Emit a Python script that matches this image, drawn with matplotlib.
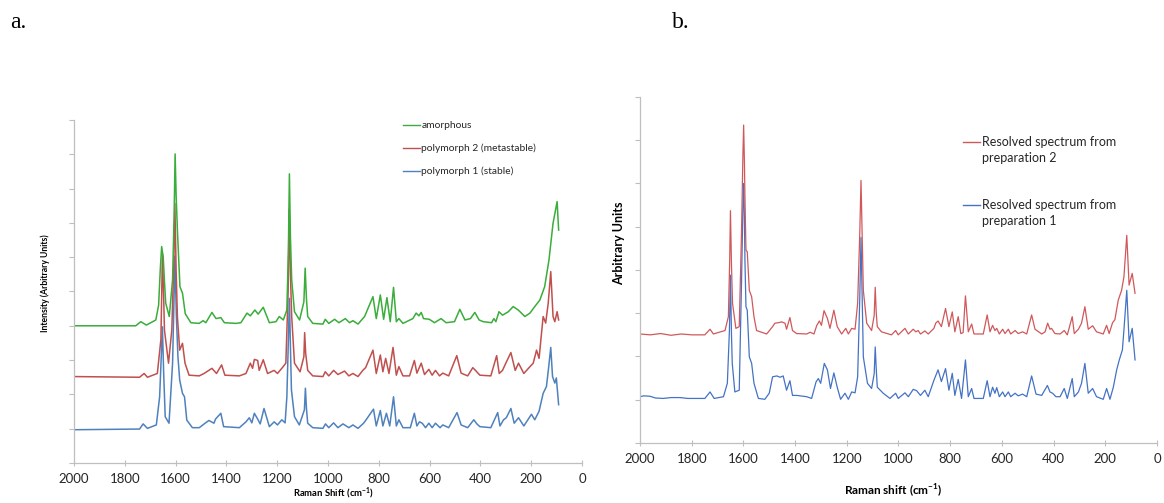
#!/usr/bin/env python3
"""Raman spectra of the two polymorphs / amorphous form and the resolved spectra."""
import matplotlib
matplotlib.use("Agg")
import matplotlib.pyplot as plt
from matplotlib.lines import Line2D

plt.rcParams["font.family"] = ["Lato", "DejaVu Sans"]
plt.rcParams["mathtext.fontset"] = "custom"
plt.rcParams["mathtext.rm"] = "Lato"
plt.rcParams["mathtext.bf"] = "Lato:bold"

# ---- panel a: Raman shift (cm-1) / intensity (offset, arbitrary units) ----
amorph_x = [2000, 1757, 1737, 1715, 1678, 1667, 1660, 1655, 1649, 1644, 1639, 1625, 1612, 1606,
            1602, 1598, 1593, 1583, 1573, 1562, 1540, 1507, 1492, 1481, 1457, 1441, 1422, 1408,
            1362, 1343, 1319, 1306, 1288, 1275, 1255, 1231, 1205, 1192, 1176, 1162, 1156, 1152,
            1148, 1143, 1132, 1112, 1095, 1090, 1085, 1080, 1060, 1020, 1011, 997, 974, 957,
            932, 915, 902, 882, 856, 823, 810, 794, 781, 768, 755, 742, 731, 721, 705, 666, 653,
            642, 633, 624, 601, 581, 555, 535, 502, 481, 461, 439, 422, 405, 389, 356, 347, 339,
            327, 313, 290, 271, 251, 225, 205, 186, 166, 147, 130, 114, 98, 92]
amorph_y = [4.00, 4.00, 4.12, 4.02, 4.17, 4.60, 5.70, 6.31, 6.01, 5.30, 4.66, 4.27, 5.34, 7.20,
            9.01, 7.80, 6.79, 5.14, 4.95, 4.35, 4.09, 4.07, 4.15, 4.09, 4.39, 4.21, 4.24, 4.09,
            4.07, 4.09, 4.37, 4.29, 4.46, 4.34, 4.54, 4.09, 4.12, 4.27, 4.17, 4.46, 6.20, 8.43,
            6.60, 5.34, 4.41, 4.17, 4.70, 5.68, 4.80, 4.27, 4.07, 4.05, 4.19, 4.07, 4.19, 4.09,
            4.21, 4.09, 4.15, 4.05, 4.27, 4.85, 4.21, 4.90, 4.19, 4.82, 4.12, 5.12, 4.12, 4.21,
            4.07, 4.21, 4.37, 4.29, 4.39, 4.21, 4.19, 4.09, 4.21, 4.09, 4.12, 4.48, 4.17, 4.21,
            4.39, 4.17, 4.12, 4.09, 4.21, 4.12, 4.41, 4.31, 4.41, 4.56, 4.46, 4.27, 4.37, 4.56,
            4.75, 5.14, 5.92, 6.99, 7.62, 6.79]

poly2_x = [2000, 1742, 1724, 1711, 1672, 1658, 1652, 1647, 1644, 1628, 1615, 1607, 1603, 1598,
           1593, 1584, 1573, 1563, 1547, 1507, 1488, 1457, 1439, 1419, 1406, 1349, 1323, 1306,
           1297, 1290, 1277, 1271, 1255, 1238, 1212, 1199, 1182, 1166, 1157, 1153, 1148, 1143,
           1132, 1110, 1095, 1092, 1088, 1080, 1060, 1020, 1011, 997, 978, 961, 935, 918, 902,
           882, 863, 852, 823, 810, 794, 784, 773, 760, 744, 731, 721, 705, 679, 660, 650, 633,
           620, 603, 590, 577, 561, 548, 525, 493, 476, 450, 430, 417, 402, 359, 336, 326, 313,
           300, 280, 263, 250, 229, 206, 192, 179, 169, 153, 143, 133, 123, 114, 107, 98, 92]
poly2_y = [2.52, 2.50, 2.61, 2.50, 2.61, 3.60, 6.09, 4.80, 3.88, 2.91, 3.88, 5.90, 7.57, 5.60,
           4.27, 3.29, 3.49, 2.91, 2.56, 2.54, 2.61, 2.76, 2.61, 2.86, 2.56, 2.54, 2.61, 2.91,
           2.76, 3.02, 2.99, 2.70, 3.01, 2.61, 2.70, 2.61, 2.76, 2.91, 5.00, 7.40, 5.50, 4.27,
           2.91, 2.66, 3.10, 3.80, 3.20, 2.70, 2.54, 2.52, 2.66, 2.54, 2.70, 2.58, 2.68, 2.54,
           2.61, 2.52, 2.70, 2.78, 3.29, 2.61, 3.15, 2.66, 3.05, 2.61, 3.37, 2.56, 2.81, 2.54,
           2.54, 2.99, 2.62, 2.91, 2.58, 2.73, 2.56, 2.70, 2.54, 2.62, 2.54, 3.13, 2.62, 2.54,
           2.78, 2.68, 2.56, 2.54, 3.13, 2.61, 2.70, 2.91, 3.22, 2.70, 2.91, 2.61, 2.80, 2.91,
           3.29, 3.05, 4.27, 4.08, 4.66, 5.58, 4.27, 4.12, 4.41, 4.17]

poly1_x = [2000, 1742, 1728, 1711, 1676, 1663, 1656, 1652, 1647, 1641, 1626, 1612, 1606, 1603,
           1597, 1591, 1584, 1573, 1565, 1556, 1534, 1507, 1484, 1469, 1449, 1443, 1422, 1411,
           1349, 1323, 1310, 1300, 1290, 1277, 1267, 1252, 1231, 1212, 1199, 1182, 1169, 1162,
           1156, 1152, 1148, 1144, 1132, 1113, 1093, 1089, 1085, 1080, 1060, 1020, 1010, 997,
           978, 961, 941, 918, 902, 882, 860, 850, 821, 810, 794, 784, 770, 757, 742, 731, 721,
           705, 676, 660, 650, 640, 629, 616, 603, 590, 577, 559, 548, 525, 492, 476, 450, 426,
           414, 402, 359, 332, 323, 309, 298, 280, 267, 250, 229, 199, 186, 169, 153, 140, 131,
           123, 116, 107, 101, 92]
poly1_y = [0.97, 0.99, 1.14, 1.01, 1.11, 1.93, 3.20, 3.97, 2.60, 1.35, 1.16, 2.91, 4.90, 6.03,
           4.27, 3.11, 2.42, 2.03, 1.93, 1.25, 1.03, 1.03, 1.16, 1.24, 1.16, 1.28, 1.45, 1.06,
           1.03, 1.20, 1.32, 1.17, 1.45, 1.28, 1.14, 1.59, 1.06, 1.20, 1.11, 1.26, 1.17, 1.93,
           3.60, 4.80, 3.40, 2.13, 1.35, 1.11, 1.55, 2.18, 1.60, 1.16, 1.03, 1.01, 1.14, 1.03,
           1.17, 1.03, 1.14, 1.03, 1.11, 1.01, 1.16, 1.26, 1.57, 1.08, 1.53, 1.08, 1.45, 1.08,
           1.93, 1.08, 1.26, 1.03, 1.03, 1.45, 1.08, 1.20, 1.16, 1.03, 1.16, 1.03, 1.16, 1.03,
           1.11, 1.03, 1.47, 1.11, 1.03, 1.26, 1.14, 1.06, 1.03, 1.47, 1.08, 1.26, 1.32, 1.59,
           1.16, 1.32, 1.08, 1.42, 1.26, 1.51, 2.03, 2.23, 2.81, 3.37, 2.52, 2.33, 2.48, 1.70]

labels_a = ["amorphous", "polymorph 2 (metastable)", "polymorph 1 (stable)"]

# ---- panel b: resolved spectra ----
prep2_x = [2000, 1960, 1920, 1880, 1840, 1800, 1749, 1729, 1716, 1671, 1658, 1653, 1650, 1646,
           1642, 1629, 1616, 1607, 1602, 1599, 1596, 1594, 1590, 1585, 1577, 1568, 1559, 1549,
           1510, 1487, 1478, 1465, 1452, 1439, 1433, 1420, 1410, 1394, 1355, 1342, 1327, 1316,
           1306, 1298, 1288, 1275, 1265, 1250, 1237, 1220, 1204, 1194, 1181, 1168, 1158, 1150,
           1145, 1140, 1136, 1123, 1104, 1094, 1090, 1086, 1082, 1066, 1027, 1011, 1001, 975,
           962, 943, 933, 924, 915, 898, 885, 863, 856, 847, 834, 818, 805, 792, 782, 769, 759,
           750, 741, 730, 717, 708, 672, 657, 646, 636, 627, 620, 610, 597, 588, 575, 566, 549,
           537, 520, 504, 485, 472, 446, 433, 423, 414, 408, 395, 375, 359, 347, 328, 320, 304,
           292, 279, 266, 249, 234, 208, 195, 185, 172, 163, 150, 137, 128, 117, 108, 96, 85]
prep2_y = [2.52, 2.50, 2.53, 2.49, 2.52, 2.50, 2.50, 2.63, 2.52, 2.60, 2.92, 4.20, 5.37, 4.10,
           3.23, 2.65, 2.69, 4.92, 6.60, 7.35, 6.50, 5.69, 4.46, 4.42, 3.53, 3.38, 2.92, 2.60,
           2.52, 2.69, 2.77, 2.78, 2.80, 2.77, 2.63, 2.90, 2.60, 2.53, 2.52, 2.56, 2.52, 2.72,
           2.82, 2.72, 3.06, 2.88, 2.65, 3.07, 2.69, 2.52, 2.65, 2.52, 2.65, 2.63, 3.23, 4.80,
           6.07, 4.60, 3.53, 2.77, 2.60, 2.95, 3.60, 3.00, 2.69, 2.57, 2.50, 2.60, 2.50, 2.65,
           2.52, 2.63, 2.57, 2.60, 2.52, 2.59, 2.52, 2.65, 2.77, 2.82, 2.69, 3.11, 2.69, 3.03,
           2.57, 2.92, 2.53, 2.55, 3.40, 2.57, 2.75, 2.52, 2.52, 2.96, 2.57, 2.72, 2.60, 2.65,
           2.52, 2.63, 2.53, 2.63, 2.52, 2.60, 2.53, 2.57, 2.52, 2.96, 2.63, 2.52, 2.57, 2.77,
           2.63, 2.65, 2.53, 2.52, 2.60, 2.50, 2.92, 2.53, 2.63, 2.77, 3.15, 2.63, 2.71, 2.57,
           2.52, 2.72, 2.53, 2.78, 2.85, 3.30, 3.53, 3.84, 4.80, 3.65, 3.92, 3.46]

prep1_x = [2000, 1985, 1961, 1940, 1910, 1880, 1845, 1815, 1781, 1749, 1729, 1713, 1677, 1662,
           1654, 1650, 1646, 1643, 1633, 1616, 1607, 1602, 1599, 1596, 1594, 1590, 1585, 1577,
           1568, 1559, 1542, 1517, 1500, 1487, 1471, 1458, 1446, 1433, 1420, 1410, 1394, 1355,
           1336, 1319, 1310, 1301, 1287, 1275, 1263, 1250, 1237, 1224, 1207, 1194, 1181, 1168,
           1158, 1150, 1145, 1140, 1136, 1120, 1104, 1094, 1090, 1086, 1082, 1059, 1033, 1011,
           1001, 975, 962, 943, 930, 915, 898, 885, 863, 847, 834, 818, 805, 792, 782, 769, 756,
           741, 730, 717, 708, 672, 657, 646, 636, 627, 620, 610, 597, 588, 575, 566, 549, 537,
           520, 504, 485, 468, 446, 424, 414, 404, 391, 375, 359, 347, 328, 320, 304, 292, 279,
           266, 249, 234, 208, 195, 182, 169, 156, 146, 134, 128, 117, 108, 96, 85]
prep1_y = [1.07, 1.09, 1.08, 1.04, 1.03, 1.05, 1.05, 1.03, 1.03, 1.03, 1.18, 1.03, 1.07, 1.38,
           2.60, 3.88, 2.50, 1.84, 1.18, 1.22, 3.77, 5.40, 6.00, 5.20, 4.23, 3.15, 3.07, 1.99,
           1.84, 1.38, 1.03, 1.01, 1.15, 1.53, 1.55, 1.52, 1.55, 1.22, 1.44, 1.10, 1.10, 1.07,
           1.03, 1.41, 1.49, 1.38, 1.84, 1.69, 1.26, 1.62, 1.29, 1.01, 1.15, 1.01, 1.18, 1.16,
           1.53, 3.30, 4.75, 3.20, 1.99, 1.38, 1.26, 1.60, 2.22, 1.70, 1.29, 1.15, 1.03, 1.15,
           1.03, 1.16, 1.07, 1.24, 1.21, 1.10, 1.22, 1.07, 1.45, 1.69, 1.42, 1.72, 1.22, 1.61,
           1.10, 1.47, 1.03, 1.92, 1.07, 1.26, 1.03, 1.03, 1.44, 1.07, 1.29, 1.15, 1.28, 1.07,
           1.18, 1.07, 1.18, 1.07, 1.15, 1.09, 1.13, 1.07, 1.55, 1.13, 1.10, 1.33, 1.18, 1.15,
           1.07, 1.07, 1.26, 1.03, 1.49, 1.07, 1.18, 1.38, 1.84, 1.15, 1.26, 1.07, 1.01, 1.26,
           1.01, 1.29, 1.69, 1.92, 2.15, 2.61, 3.53, 2.34, 2.65, 1.92]

labels_b = ["Resolved spectrum from\npreparation 2", "Resolved spectrum from\npreparation 1"]

GREEN, RED, BLUE = "#3aad3a", "#c0504d", "#4f81bd"
RED_B, BLUE_B = "#d0585a", "#4472c4"
SPINE = "#bfbfbf"


def style_axes(ax, ymax):
    ax.set_xlim(2000, 0)
    ax.set_ylim(0, ymax)
    ax.set_xticks(range(2000, -1, -200))
    ax.set_yticks(range(0, ymax + 1))
    ax.set_yticklabels([])
    for side in ("top", "right"):
        ax.spines[side].set_visible(False)
    for side in ("left", "bottom"):
        ax.spines[side].set_color(SPINE)
        ax.spines[side].set_linewidth(0.9)
    ax.tick_params(axis="x", direction="inout", length=5, width=0.8, color=SPINE,
                   labelsize=9.5, labelcolor="#262626", pad=5)
    ax.tick_params(axis="y", direction="out", length=3.5, width=0.8, color=SPINE)


def legend_entry(ax, x, y, color, lines, fs, dy):
    # Excel style: short line in front of the first text row
    ax.add_line(Line2D([x, x + 0.033], [y, y], transform=ax.transAxes, color=color, lw=1.0))
    for i, line in enumerate(lines):
        ax.text(x + 0.036, y - i * dy, line, transform=ax.transAxes, fontsize=fs,
                va="center", ha="left", color="#262626")


fig = plt.figure(figsize=(11.64, 5.03), dpi=100)
ax_a = fig.add_axes([0.0636, 0.0795, 0.4364, 0.682])
ax_b = fig.add_axes([0.5498, 0.1193, 0.4442, 0.688])

# panel a
ax_a.plot(poly1_x, poly1_y, color=BLUE, lw=1.1)
ax_a.plot(poly2_x, poly2_y, color=RED, lw=1.1)
ax_a.plot(amorph_x, amorph_y, color=GREEN, lw=1.1)
style_axes(ax_a, 10)
ax_a.set_xlabel("Raman Shift (cm$^{\\mathbf{-1}}$)", fontsize=6.8, fontweight="bold")
ax_a.xaxis.set_label_coords(0.51, -0.066)
ax_a.set_ylabel("Intensity (Arbitrary Units)", fontsize=6.2, fontweight="bold")
ax_a.yaxis.set_label_coords(-0.047, 0.525)
for i, (lab, col) in enumerate(zip(labels_a, [GREEN, RED, BLUE])):
    legend_entry(ax_a, 0.648, 0.985 - i * 0.067, col, [lab], 7.4, 0)

# panel b
ax_b.plot(prep1_x, prep1_y, color=BLUE_B, lw=0.9)
ax_b.plot(prep2_x, prep2_y, color=RED_B, lw=0.9)
style_axes(ax_b, 8)
ax_b.set_xlabel("Raman shift (cm$^{\\mathbf{-1}}$)", fontsize=8.5, fontweight="bold")
ax_b.xaxis.set_label_coords(0.49, -0.113)
ax_b.set_ylabel("Arbitrary Units", fontsize=9, fontweight="bold")
ax_b.yaxis.set_label_coords(-0.028, 0.578)
for i, (lab, col) in enumerate(zip(labels_b, [RED_B, BLUE_B])):
    legend_entry(ax_b, 0.625, 0.871 - i * 0.183, col, lab.split("\n"), 9, 0.047)

# panel letters
fig.text(0.009, 0.955, "a.", fontsize=17, family="Liberation Serif", va="center")
fig.text(0.577, 0.955, "b.", fontsize=17, family="Liberation Serif", va="center")

fig.savefig("out.png", dpi=100)
plt.close(fig)
